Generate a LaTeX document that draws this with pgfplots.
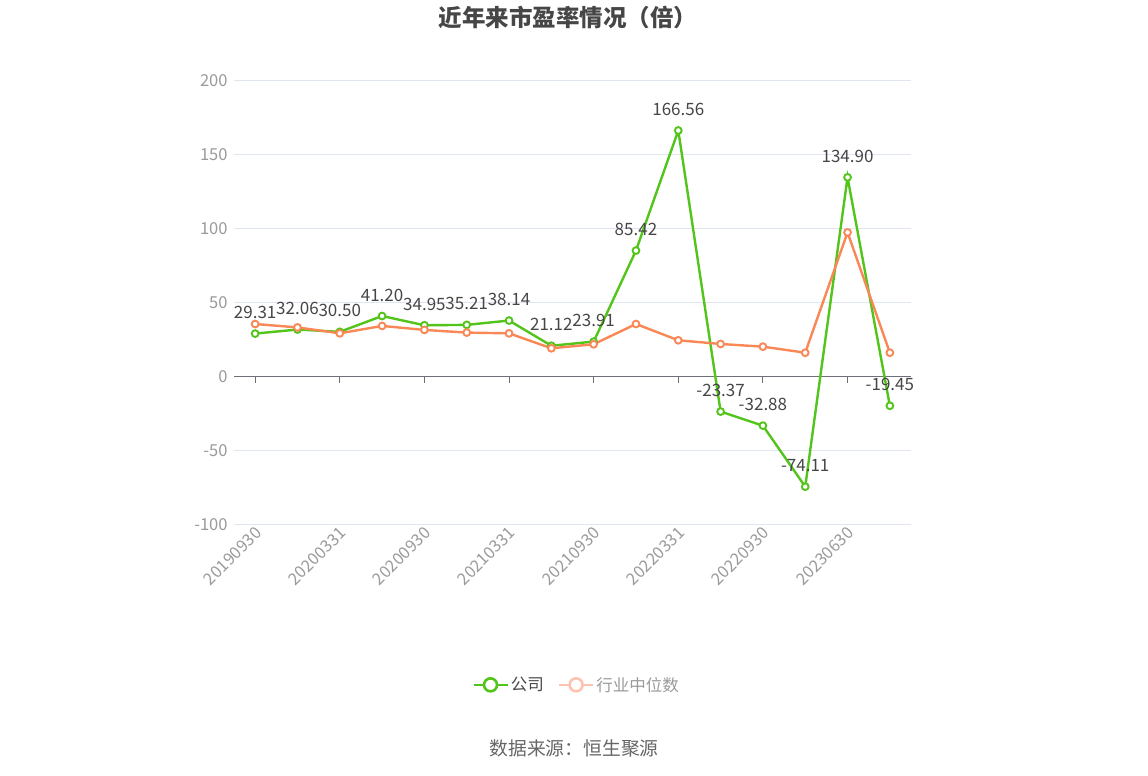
\documentclass[border=0pt]{standalone}
\usepackage{pgfplots}
\pgfplotsset{compat=1.18}
\usepackage{fontspec}
\setmainfont{Noto Sans CJK SC}

\definecolor{gs}{HTML}{52C41A}
\definecolor{og}{HTML}{FA8756}
\definecolor{ogl}{HTML}{FCC3AE}
\definecolor{gridc}{HTML}{E0E6F1}
\definecolor{axc}{HTML}{6E7079}
\definecolor{tickc}{HTML}{9A9A9A}
\definecolor{labc}{HTML}{464646}

\pgfplotstableread{
x y lab
0 29.31 29.31
1 32.06 32.06
2 30.50 30.50
3 41.20 41.20
4 34.95 34.95
5 35.21 35.21
6 38.14 38.14
7 21.12 21.12
8 23.91 23.91
9 85.42 85.42
10 166.56 166.56
11 -23.37 -23.37
12 -32.88 -32.88
13 -74.11 -74.11
14 134.90 134.90
15 -19.45 -19.45
}\company

\pgfplotstableread{
x y
0 35.8
1 33.5
2 29.5
3 34.5
4 31.8
5 30.0
6 29.5
7 19.4
8 22.1
9 35.8
10 24.8
11 22.3
12 20.5
13 16.4
14 97.7
15 16.4
}\industry

\begin{document}
\begin{tikzpicture}[x=1bp,y=1bp]
\path[use as bounding box] (0,0) rectangle (1148,776);

\node[font=\fontsize{23.5bp}{27bp}\selectfont\bfseries, text=labc] at (568,758) {近年来市盈率情况（倍）};
\node[font=\fontsize{18.8bp}{22bp}\selectfont, text=black!60] at (574,28) {数据来源：恒生聚源};

\begin{axis}[
    at={(234bp,251bp)}, anchor=south west,
    scale only axis, width=677bp, height=444bp,
    xmin=-0.5, xmax=15.5, ymin=-100, ymax=200,
    axis line style={draw=none},
    ymajorgrids, grid style={gridc, line width=1bp},
    ytick={-100,-50,...,200},
    xtick={0,2,...,14},
    xticklabels={20190930,20200331,20200930,20210331,20210930,20220331,20220930,20230630},
    major tick length=0,
    tick label style={font=\fontsize{16.5bp}{19bp}\selectfont, text=tickc},
    yticklabel style={xshift=-3bp},
    xticklabel style={rotate=45, anchor=east, yshift=-6bp, xshift=2bp},
    /pgf/number format/assume math mode=true,
    clip=false,
    legend style={at={(axis description cs:0.506,-0.36)}, anchor=center,
        draw=none, fill=none, legend columns=2,
        font=\fontsize{16.5bp}{19bp}\selectfont,
        /tikz/every even column/.append style={column sep=12bp}},
]
\draw[axc, line width=1bp] (axis cs:-0.5,0) -- (axis cs:15.5,0);
\pgfplotsinvokeforeach{0,2,...,14}{
    \draw[axc, line width=1bp] (axis cs:#1,0) -- ++(0bp,-6bp);
}

\addplot[gs, line width=2.4bp, mark=*, mark size=3.4bp,
    mark options={fill=white, line width=1.9bp},
    nodes near coords, point meta=explicit symbolic,
    every node near coord/.append style={font=\fontsize{17bp}{20bp}\selectfont, text=labc, anchor=base, yshift=15bp},
    legend image code/.code={
        \draw[gs, line width=2.6bp] (0bp,0bp) -- (34bp,0bp);
        \draw[gs, line width=2.6bp, fill=white] (17bp,0bp) circle (6.5bp);}
] table[x=x, y=y, meta=lab] {\company};
\addlegendentry{\textcolor{labc}{公司}}

\addplot[og, line width=2.4bp, mark=*, mark size=3.4bp,
    mark options={fill=white, line width=1.9bp},
    legend image code/.code={
        \draw[ogl, line width=2.6bp] (0bp,0bp) -- (34bp,0bp);
        \draw[ogl, line width=2.6bp, fill=white] (17bp,0bp) circle (6.5bp);}
] table[x=x, y=y] {\industry};
\addlegendentry{\textcolor{tickc}{行业中位数}}
\end{axis}
\end{tikzpicture}
\end{document}
